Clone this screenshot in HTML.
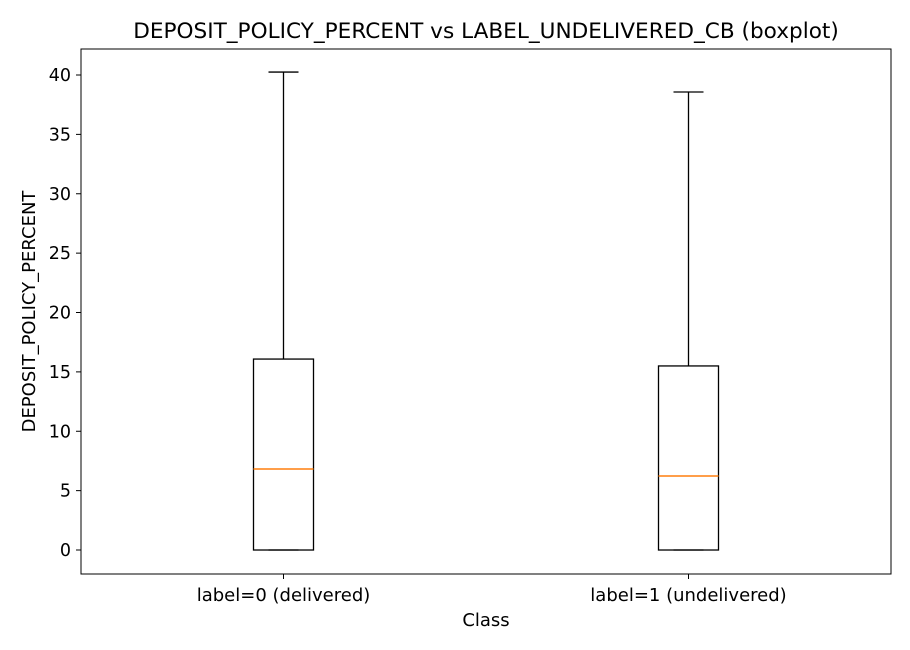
<!DOCTYPE html>
<html><head><meta charset="utf-8"><style>
body{margin:0;background:#fff;}
svg{display:block;font-family:"DejaVu Sans","Liberation Sans",sans-serif;}
</style></head><body>
<svg id="chart" width="910" height="650"></svg>
<script>
const categories=["label=0 (delivered)","label=1 (undelivered)"];
const whiskerLow=[0,0];
const q1=[0,0];
const median=[6.82,6.23];
const q3=[16.08,15.5];
const whiskerHigh=[40.25,38.57];
const yTicks=[0,5,10,15,20,25,30,35,40];

const NS="http://www.w3.org/2000/svg";
const svg=document.getElementById('chart');
const L=81,R=891,T=49,B=574;
const yMin=-2.02,yMax=42.19;
const y=v=>B-(v-yMin)/(yMax-yMin)*(B-T);
const x=i=>L+(i+0.5)*(R-L)/categories.length;
function el(tag,attrs,parent){const e=document.createElementNS(NS,tag);for(const k in attrs)e.setAttribute(k,attrs[k]);(parent||svg).appendChild(e);return e;}
function txt(s,attrs,name){const e=el('text',attrs);e.textContent=s;


return e;}

txt("DEPOSIT_POLICY_PERCENT vs LABEL_UNDELIVERED_CB (boxplot)",{x:486,y:38,'text-anchor':'middle','font-size':21.6},'chart-title');

yTicks.forEach(t=>{
const tk=el('line',{x1:L-5,x2:L,y1:y(t),y2:y(t),stroke:'#000','stroke-width':1});


txt(String(t),{x:L-10,y:y(t)+6,'text-anchor':'end','font-size':17.5},'y-tick-label');
});

categories.forEach((c,i)=>{
const cx=x(i),hw=30,cw=15;
const g=el('g',{});


el('line',{x1:cx,x2:cx,y1:y(q3[i]),y2:y(whiskerHigh[i]),stroke:'#000','stroke-width':1.3},g);
el('line',{x1:cx,x2:cx,y1:y(q1[i]),y2:y(whiskerLow[i]),stroke:'#000','stroke-width':1.3},g);
el('line',{x1:cx-cw,x2:cx+cw,y1:y(whiskerHigh[i]),y2:y(whiskerHigh[i]),stroke:'#000','stroke-width':1.3},g);
el('line',{x1:cx-cw,x2:cx+cw,y1:y(whiskerLow[i]),y2:y(whiskerLow[i]),stroke:'#000','stroke-width':1.3},g);
el('rect',{x:cx-hw,y:y(q3[i]),width:2*hw,height:y(q1[i])-y(q3[i]),fill:'none',stroke:'#000','stroke-width':1.3},g);
el('line',{x1:cx-hw,x2:cx+hw,y1:y(median[i]),y2:y(median[i]),stroke:'#ff7f0e','stroke-width':1.5},g);
const tk=el('line',{x1:cx,x2:cx,y1:B,y2:B+5,stroke:'#000','stroke-width':1});


txt(c,{x:cx,y:B+27,'text-anchor':'middle','font-size':18},'x-tick-label');
});

const frame=el('rect',{x:L,y:T,width:R-L,height:B-T,fill:'none',stroke:'#000','stroke-width':1});


txt("Class",{x:486,y:626,'text-anchor':'middle','font-size':18},'x-axis-title');
txt("DEPOSIT_POLICY_PERCENT",{x:0,y:0,'text-anchor':'middle','font-size':18,transform:`translate(35,${(T+B)/2}) rotate(-90)`},'y-axis-title');
</script>
</body></html>
